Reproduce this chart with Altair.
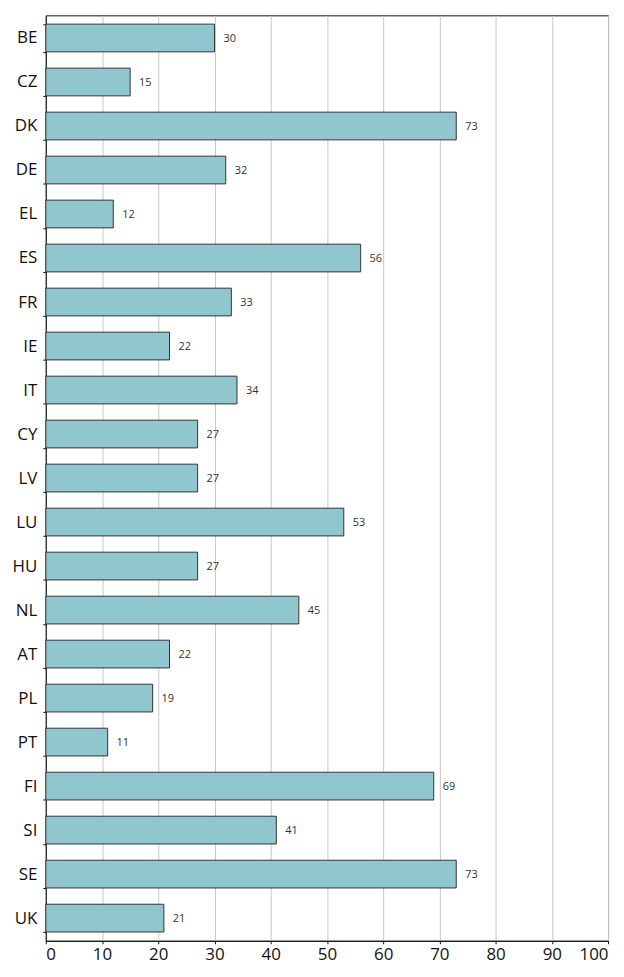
import altair as alt
import pandas as pd

countries = ["BE", "CZ", "DK", "DE", "EL", "ES", "FR", "IE", "IT", "CY", "LV",
             "LU", "HU", "NL", "AT", "PL", "PT", "FI", "SI", "SE", "UK"]
values = [30, 15, 73, 32, 12, 56, 33, 22, 34, 27, 27,
          53, 27, 45, 22, 19, 11, 69, 41, 73, 21]
x_ticks = [0, 10, 20, 30, 40, 50, 60, 70, 80, 90, 100]

df = pd.DataFrame({"country": countries, "value": values})

FONT = "Open Sans"

y_enc = alt.Y("country:N", sort=countries,
              scale=alt.Scale(paddingInner=0.37, paddingOuter=0.2),
              axis=alt.Axis(title=None, tickBand="extent", tickSize=3,
                            labelFontSize=17, labelFont=FONT, labelColor="#111",
                            labelPadding=6, domainColor="#111", tickColor="#111",
                            grid=False))
x_enc = alt.X("value:Q",
              scale=alt.Scale(domain=[0, 100], nice=False),
              axis=alt.Axis(title=None, values=x_ticks, tickSize=3,
                            labelFontSize=17, labelFont=FONT, labelColor="#111",
                            labelPadding=3, domainColor="#111", tickColor="#111",
                            gridColor="#c8c8c8", gridWidth=1))

bars = alt.Chart(df).mark_bar(fill="#90c7cf", stroke="#333333",
                              strokeWidth=1).encode(x=x_enc, y=y_enc)

labels = alt.Chart(df).mark_text(align="left", baseline="middle", dx=9, dy=1,
                                 fontSize=11, font=FONT, color="#333").encode(
    x="value:Q", y=alt.Y("country:N", sort=countries), text="value:Q")

chart = (bars + labels).properties(
    width=565, height=930,
    autosize=alt.AutoSizeParams(type="none"),
    padding={"left": 38, "top": 5, "right": 8, "bottom": 25},
).configure_view(stroke="#111", strokeWidth=1)

chart.save("out.html", embed_options={"renderer": "svg", "actions": False})
